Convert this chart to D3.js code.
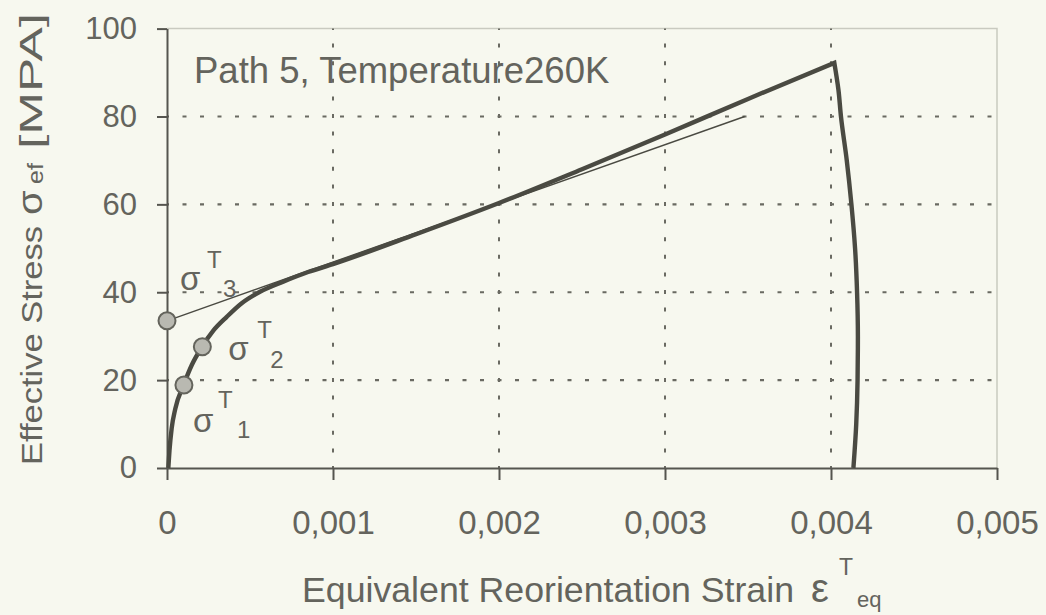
<!DOCTYPE html>
<html>
<head>
<meta charset="utf-8">
<script src="https://cdn.jsdelivr.net/npm/d3@7"></script>
<style>
  html, body { margin: 0; padding: 0; background: #f7f8ef; }
  svg { display: block; font-family: "Liberation Sans", Arial, sans-serif; }
</style>
</head>
<body>
<svg id="chart" width="1046" height="615"></svg>
<script>
// Axis ticks
const strainTicks = [0, 0.001, 0.002, 0.003, 0.004, 0.005];
const strainTickLabels = ["0", "0,001", "0,002", "0,003", "0,004", "0,005"];
const stressTicks = [0, 20, 40, 60, 80, 100];

// Loading branch (strain, effective stress in MPa)
const loadStrain = [0.000008, 0.000015, 0.000028, 0.00005, 0.0001, 0.00015, 0.00021, 0.00028, 0.00036,
                    0.00045, 0.00056, 0.0007, 0.00085, 0.001, 0.0015, 0.002, 0.0025, 0.003, 0.0035, 0.00402];
const loadStress = [0, 4, 9, 13.5, 18.9, 23.5, 27.5, 31.3, 34.4,
                    37.5, 40.1, 42.4, 44.6, 46.4, 53.2, 60.3, 68.0, 75.9, 84.0, 92.2];

// Unloading branch, starting from the peak
const unloadStrain = [0.00402, 0.004045, 0.00406, 0.004095, 0.004123, 0.004145, 0.004157, 0.004162, 0.00416, 0.004152, 0.004135];
const unloadStress = [92.2, 86, 80, 70, 60, 50, 40, 30, 20, 10, 0];

// Tangent to the linear part, extrapolated back to zero strain
const tangentStrain = [0, 0.00348];
const tangentStress = [33.5, 80];

// Characteristic stresses sigma^T_1..3
const markStrain = [0.000102, 0.000213, 0];
const markStress = [18.9, 27.6, 33.5];
const markIndex = ["1", "2", "3"];

const ink = "#4a4a42";
const textInk = "#64645d";

const svg = d3.select("#chart");
const x = d3.scaleLinear().domain([0, 0.005]).range([167, 997]);
const y = d3.scaleLinear().domain([0, 100]).range([468, 28.6]);

// plot frame (light top/right border)
svg.append("path")
  .attr("d", `M${x(0)},${y(100)}H${x(0.005)}V${y(0)}`)
  .attr("fill", "none").attr("stroke", "#c9cac0").attr("stroke-width", 1.5);

// dotted grid
svg.append("g").selectAll("line").data(stressTicks.filter(v => v > 0 && v < 100)).join("line")
  .attr("x1", x(0)).attr("x2", x(0.005))
  .attr("y1", d => y(d)).attr("y2", d => y(d))
  .attr("stroke", "#6a6a62").attr("stroke-width", 2.2)
  .attr("stroke-dasharray", "4,13.5").attr("stroke-dashoffset", 2);
svg.append("g").selectAll("line").data(strainTicks.filter(v => v > 0 && v < 0.005)).join("line")
  .attr("x1", d => x(d)).attr("x2", d => x(d))
  .attr("y1", y(0)).attr("y2", y(100))
  .attr("stroke", "#6a6a62").attr("stroke-width", 2)
  .attr("stroke-dasharray", "4,13.6").attr("stroke-dashoffset", 2);

// axes
const yAxis = svg.append("g").attr("transform", `translate(${x(0)},0)`)
  .call(d3.axisLeft(y).tickValues(stressTicks).tickSize(10).tickSizeOuter(0).tickPadding(20));
const xAxis = svg.append("g").attr("transform", `translate(0,${y(0)})`)
  .call(d3.axisBottom(x).tickValues(strainTicks).tickFormat((d, i) => strainTickLabels[i])
        .tickSize(12).tickSizeOuter(0).tickPadding(31));
[yAxis, xAxis].forEach(g => {
  g.select(".domain").attr("stroke", "#55554f").attr("stroke-width", 2);
  g.selectAll(".tick line").attr("stroke", "#55554f").attr("stroke-width", 2);
  g.selectAll(".tick text").attr("fill", textInk).attr("font-family", "Liberation Sans, Arial, sans-serif");
});
yAxis.selectAll(".tick text").attr("font-size", 31);
xAxis.selectAll(".tick text").attr("font-size", 33);

// tangent line
svg.append("line")
  .attr("x1", x(tangentStrain[0])).attr("y1", y(tangentStress[0]))
  .attr("x2", x(tangentStrain[1])).attr("y2", y(tangentStress[1]))
  .attr("stroke", ink).attr("stroke-width", 1.4);

// stress-strain curve: smooth loading + smooth unloading joined at a sharp peak
const loadPts = loadStrain.map((s, i) => [x(s), y(loadStress[i])]);
const unloadPts = unloadStrain.map((s, i) => [x(s), y(unloadStress[i])]);
const loadPath = d3.line().curve(d3.curveMonotoneX)(loadPts);
const unloadPath = d3.line().curve(d3.curveMonotoneY)(unloadPts).replace(/^M[^A-Za-z]*/, "");
svg.append("path")
  .attr("d", loadPath + unloadPath)
  .attr("fill", "none").attr("stroke", ink).attr("stroke-width", 4.4)
  .attr("stroke-linejoin", "miter").attr("stroke-linecap", "butt");

// characteristic points
svg.append("g").selectAll("circle").data(markStrain).join("circle")
  .attr("cx", d => x(d)).attr("cy", (d, i) => y(markStress[i]))
  .attr("r", 8.5).attr("fill", "#b9b9b1").attr("stroke", "#64645c").attr("stroke-width", 2);

// sigma^T_i labels, offset from each point
const labelOffsets = [
  { s: [9, 47], t: [34, 23], n: [53, 53] },
  { s: [26, 13], t: [55, -9], n: [68, 21] },
  { s: [13, -31], t: [40, -53], n: [56, -24] }
];
const labels = svg.append("g").attr("fill", textInk);
markStrain.forEach((s, i) => {
  const cx = x(s), cy = y(markStress[i]), o = labelOffsets[i];
  labels.append("text").attr("x", cx + o.s[0]).attr("y", cy + o.s[1]).attr("font-size", 33).text("σ");
  labels.append("text").attr("x", cx + o.t[0]).attr("y", cy + o.t[1]).attr("font-size", 24).text("T");
  labels.append("text").attr("x", cx + o.n[0]).attr("y", cy + o.n[1]).attr("font-size", 24).text(markIndex[i]);
});

// annotation
svg.append("text").attr("x", 194).attr("y", 83).attr("font-size", 36.5).attr("fill", textInk)
  .text("Path 5, Temperature260K");

// x-axis title
const xt = svg.append("text").attr("x", 302).attr("y", 602).attr("font-size", 35.7).attr("fill", textInk);
xt.append("tspan").text("Equivalent Reorientation Strain");
xt.append("tspan").attr("x", 811).attr("font-size", 40).text("ε");
xt.append("tspan").attr("x", 839).attr("y", 575).attr("font-size", 23).text("T");
xt.append("tspan").attr("x", 857).attr("y", 607).attr("font-size", 22).text("eq");

// y-axis title, laid out along the rotated axis from its start
const yt = svg.append("g").attr("transform", "translate(42,465) rotate(-90) scale(1,0.86)")
  .attr("fill", textInk);
yt.append("text").attr("x", 0).attr("y", 0).attr("font-size", 34.5).text("Effective Stress");
yt.append("text").attr("x", 250).attr("y", 0).attr("font-size", 40).text("σ");
yt.append("text").attr("x", 281).attr("y", 1).attr("font-size", 25).text("ef");
yt.append("text").attr("x", 316).attr("y", 0).attr("font-size", 36)
  .attr("textLength", 136).attr("lengthAdjust", "spacingAndGlyphs").text("[MPA]");
</script>
</body>
</html>
